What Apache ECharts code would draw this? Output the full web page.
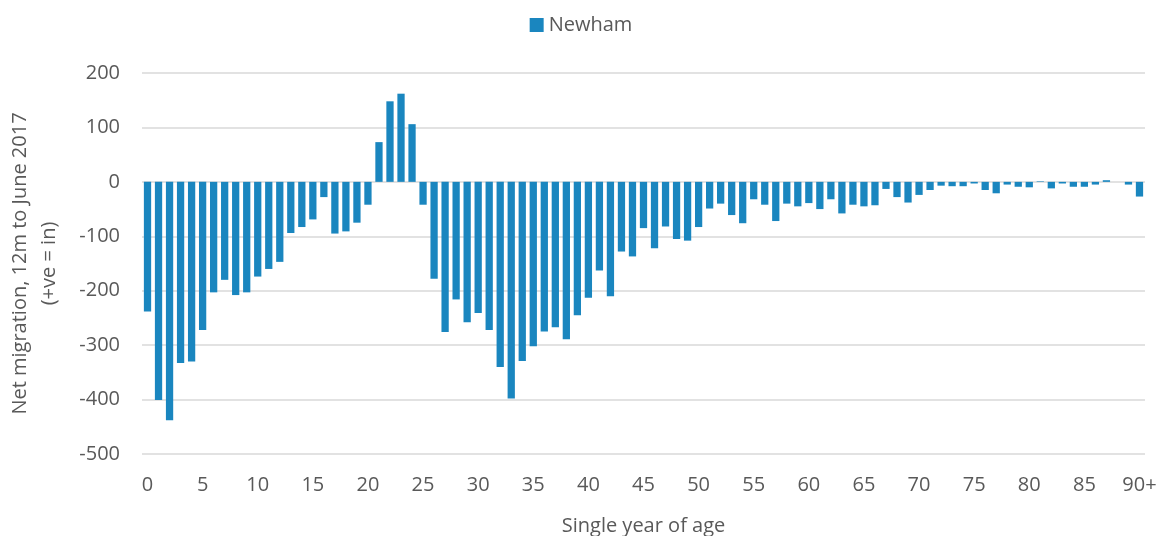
<!DOCTYPE html>
<html>
<head>
<meta charset="utf-8">
<script src="https://cdn.jsdelivr.net/npm/echarts@6/dist/echarts.min.js"></script>
<style>
html,body{margin:0;padding:0;background:#fff;}
#chart{width:1162px;height:536px;}
</style>
</head>
<body>
<div id="chart"></div>
<script>
// Categories: single year of age 0..89, then 90+
const ages = [];
for (let i = 0; i < 90; i++) ages.push(String(i));
ages.push('90+');

// Net migration values
const netMigration0to22 = [-238, -401, -438, -333, -330, -272, -203, -180, -208, -203,
  -174, -160, -147, -94, -83, -69, -28, -95, -91, -75, -42, 73, 148];
const netMigration23to44 = [162, 106, -42, -178, -276, -216, -258, -241, -272, -340,
  -398, -329, -302, -275, -267, -289, -245, -213, -163, -210, -128, -137];
const netMigration45to66 = [-85, -122, -82, -105, -108, -83, -49, -40, -61, -76,
  -32, -42, -72, -40, -45, -39, -50, -32, -58, -42, -45, -43];
const netMigration67to90 = [-13, -28, -38, -24, -15, -7, -8, -8, -3, -15,
  -21, -5, -9, -10, 1, -12, -3, -9, -9, -5, 3, 0, -5, -27];
const newham = netMigration0to22.concat(netMigration23to44, netMigration45to66, netMigration67to90);

const yTicks = { min: -500, max: 200, interval: 100 };

const font = '"Open Sans", Lato, sans-serif';
const textColor = '#595959';

const chart = echarts.init(document.getElementById('chart'), null, { renderer: 'canvas' });
chart.setOption({
  animation: false,
  textStyle: { fontFamily: font },
  legend: {
    data: ['Newham'],
    top: 10,
    left: 'center',
    itemWidth: 14,
    itemHeight: 14,
    itemGap: 4,
    icon: 'rect',
    textStyle: { fontSize: 20, color: textColor, fontFamily: font }
  },
  grid: { left: 142, right: 17, top: 73, bottom: 82, outerBoundsMode: 'none', containLabel: false },
  xAxis: {
    type: 'category',
    data: ages,
    name: 'Single year of age',
    nameLocation: 'middle',
    nameGap: 62,
    nameTextStyle: { fontSize: 20, color: textColor, fontFamily: font },
    axisLine: { show: false },
    axisTick: { show: false },
    axisLabel: { interval: 4, fontSize: 20, color: textColor, margin: 21, fontFamily: font },
    position: 'bottom'
  },
  yAxis: {
    type: 'value',
    min: yTicks.min,
    max: yTicks.max,
    interval: yTicks.interval,
    name: 'Net migration, 12m to June 2017\n(+ve = in)',
    nameLocation: 'middle',
    nameGap: 78,
    nameRotate: 90,
    nameTextStyle: { fontSize: 20, color: textColor, lineHeight: 29, fontFamily: font },
    axisLine: { show: false },
    axisTick: { show: false },
    axisLabel: { fontSize: 20, color: textColor, margin: 22, fontFamily: font },
    splitLine: { lineStyle: { color: '#d9d9d9', width: 1.5 } }
  },
  series: [{
    name: 'Newham',
    type: 'bar',
    data: newham,
    barCategoryGap: '34%',
    itemStyle: { color: '#1a86bf' }
  }]
});
</script>
</body>
</html>
